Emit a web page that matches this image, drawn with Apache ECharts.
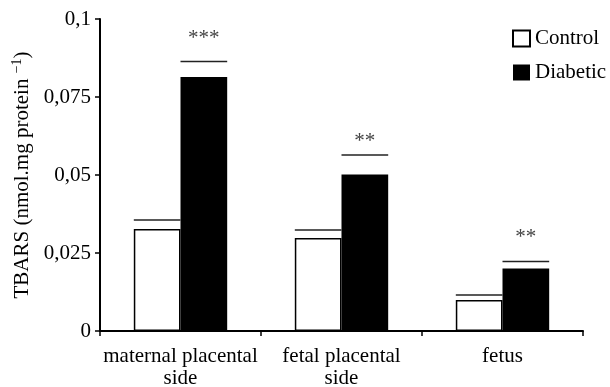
<!DOCTYPE html>
<html>
<head>
<meta charset="utf-8">
<script src="https://cdn.jsdelivr.net/npm/echarts@6/dist/echarts.min.js"></script>
<style>html,body{margin:0;padding:0;background:#fff}#c{width:610px;height:387px}</style>
</head>
<body>
<div id="c"></div>
<script>
const categories = ['maternal placental\nside', 'fetal placental\nside', 'fetus'];
const controlValues = [0.0327, 0.0298, 0.0099];
const diabeticValues = [0.0814, 0.0502, 0.0200];
const controlErrTop = [0.0356, 0.0324, 0.0115];
const diabeticErrTop = [0.0864, 0.0564, 0.0223];
const significance = ['***', '**', '**'];
const starLevels = [0.0949, 0.0619, 0.0314];
const yTickLabels = ['0', '0,025', '0,05', '0,075', '0,1'];

const FONT = "'Liberation Serif', 'Times New Roman', serif";
const BAR_FRAC = 0.29;

const chart = echarts.init(document.getElementById('c'));

function capSeries(name, vals, side) {
  return {
    type: 'custom',
    name: name + ' err',
    silent: true,
    z: 5,
    data: vals.map((v, i) => [i, v]),
    renderItem: function (params, api) {
      const p = api.coord([api.value(0), api.value(1)]);
      const bw = api.size([1, 0])[0] * BAR_FRAC;
      const cx = p[0] + side * bw / 2;
      return {
        type: 'line',
        shape: { x1: cx - bw / 2, y1: p[1], x2: cx + bw / 2, y2: p[1] },
        style: { stroke: '#222', lineWidth: 1.5 }
      };
    }
  };
}

const option = {
  animation: false,
  backgroundColor: '#fff',
  textStyle: { fontFamily: FONT },
  grid: { left: 100, right: 27, top: 19, bottom: 56, outerBoundsMode: 'none', containLabel: false },
  legend: {
    orient: 'vertical',
    left: 512,
    top: 28,
    padding: 0,
    itemWidth: 17,
    itemHeight: 16,
    itemGap: 13,
    icon: 'rect',
    data: ['Control', 'Diabetic'],
    textStyle: { fontFamily: FONT, fontSize: 21, color: '#000' }
  },
  xAxis: {
    type: 'category',
    data: categories,
    axisLine: { lineStyle: { color: '#000', width: 2 } },
    axisTick: { show: true, length: 5, lineStyle: { color: '#000', width: 1.5 } },
    axisLabel: { fontFamily: FONT, fontSize: 21, color: '#000', lineHeight: 22, margin: 14, interval: 0 },
    splitLine: { show: false }
  },
  yAxis: {
    type: 'value',
    min: 0,
    max: 0.1,
    interval: 0.025,
    name: '{a|TBARS (nmol.mg protein }{s|−1}{a|)}',
    nameLocation: 'middle',
    nameRotate: 90,
    nameGap: 61,
    nameTextStyle: {
      fontFamily: FONT, color: '#000',
      rich: {
        a: { fontFamily: FONT, fontSize: 21, color: '#000', lineHeight: 24 },
        s: { fontFamily: FONT, fontSize: 14, color: '#000', lineHeight: 24, verticalAlign: 'top' }
      }
    },
    axisLine: { show: true, lineStyle: { color: '#000', width: 2 } },
    axisTick: { show: true, length: 5, lineStyle: { color: '#000', width: 1.5 } },
    axisLabel: {
      fontFamily: FONT, fontSize: 21, color: '#000', margin: 9,
      formatter: function (v, idx) { return yTickLabels[idx]; }
    },
    splitLine: { show: false }
  },
  series: [
    {
      name: 'Control', type: 'bar', data: controlValues,
      barWidth: (BAR_FRAC * 100) + '%', barGap: '0%',
      itemStyle: { color: '#fff', borderColor: '#000', borderWidth: 1.5 }
    },
    {
      name: 'Diabetic', type: 'bar', data: diabeticValues,
      barWidth: (BAR_FRAC * 100) + '%', barGap: '0%',
      itemStyle: { color: '#000', borderColor: '#000', borderWidth: 0 }
    },
    capSeries('Control', controlErrTop, -1),
    capSeries('Diabetic', diabeticErrTop, 1),
    {
      type: 'custom',
      name: 'stars',
      silent: true,
      data: starLevels.map((v, i) => [i, v]),
      renderItem: function (params, api) {
        const p = api.coord([api.value(0), api.value(1)]);
        const bw = api.size([1, 0])[0] * BAR_FRAC;
        return {
          type: 'text',
          x: p[0] + bw / 2,
          y: p[1] + 4,
          style: {
            text: significance[params.dataIndex],
            fontFamily: FONT, fontSize: 21, fill: '#444',
            align: 'center', verticalAlign: 'middle'
          }
        };
      }
    }
  ]
};
chart.setOption(option);
</script>
</body>
</html>
